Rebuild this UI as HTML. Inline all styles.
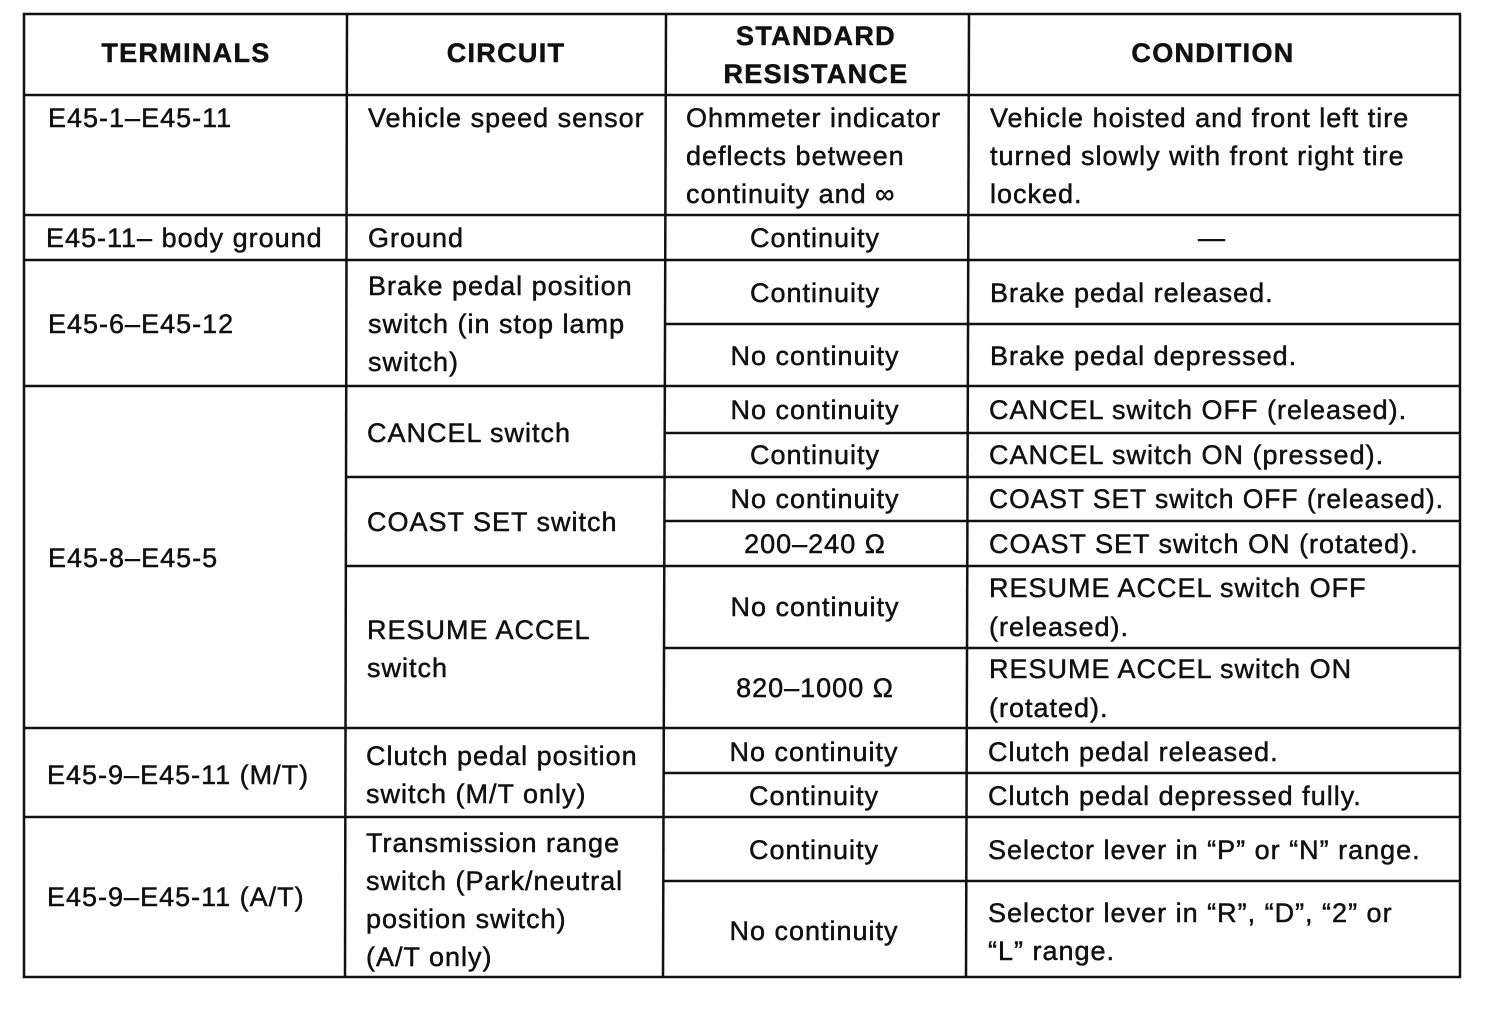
<!DOCTYPE html>
<html><head><meta charset="utf-8"><style>
html,body{margin:0;padding:0;background:#fff;}
svg{display:block;}
text{font-family:"Liberation Sans",Arial,sans-serif;font-size:27px;letter-spacing:1px;fill:#111;stroke:#111;stroke-width:0.5;}
.h{font-weight:bold;font-size:27px;letter-spacing:1.3px;}
</style></head><body>
<svg width="1504" height="1014" viewBox="0 0 1504 1014">
<g stroke="#111" stroke-width="2.5" fill="none">
<rect x="24" y="14" width="1436" height="963"/>
<line x1="347" y1="14" x2="345" y2="977"/>
<line x1="666" y1="14" x2="663" y2="977"/>
<line x1="969" y1="14" x2="966" y2="977"/>
<line x1="24" y1="95" x2="1460" y2="95"/>
<line x1="24" y1="215" x2="1460" y2="215"/>
<line x1="24" y1="260" x2="1460" y2="260"/>
<line x1="665" y1="324" x2="1460" y2="324"/>
<line x1="24" y1="386" x2="1460" y2="386"/>
<line x1="665" y1="433" x2="1460" y2="433"/>
<line x1="346" y1="477" x2="1460" y2="477"/>
<line x1="665" y1="521" x2="1460" y2="521"/>
<line x1="346" y1="566" x2="1460" y2="566"/>
<line x1="665" y1="648" x2="1460" y2="648"/>
<line x1="24" y1="728" x2="1460" y2="728"/>
<line x1="664" y1="773" x2="1460" y2="773"/>
<line x1="24" y1="817" x2="1460" y2="817"/>
<line x1="664" y1="881" x2="1460" y2="881"/>
</g>
<text class="h" x="186" y="62" text-anchor="middle">TERMINALS</text>
<text class="h" x="506" y="62" text-anchor="middle">CIRCUIT</text>
<text class="h" x="816" y="45" text-anchor="middle">STANDARD</text>
<text class="h" x="816" y="83" text-anchor="middle">RESISTANCE</text>
<text class="h" x="1213" y="62" text-anchor="middle">CONDITION</text>

<text x="48" y="127">E45-1–E45-11</text>
<text x="368" y="127">Vehicle speed sensor</text>
<text x="686" y="127">Ohmmeter indicator</text>
<text x="686" y="165">deflects between</text>
<text x="686" y="203">continuity and ∞</text>
<text x="990" y="127">Vehicle hoisted and front left tire</text>
<text x="990" y="165">turned slowly with front right tire</text>
<text x="990" y="203">locked.</text>

<text x="46" y="247">E45-11– body ground</text>
<text x="368" y="247">Ground</text>
<text x="815" y="247" text-anchor="middle">Continuity</text>
<text x="1212" y="247" text-anchor="middle">—</text>

<text x="48" y="333">E45-6–E45-12</text>
<text x="368" y="295">Brake pedal position</text>
<text x="368" y="333">switch (in stop lamp</text>
<text x="368" y="371">switch)</text>
<text x="815" y="302" text-anchor="middle">Continuity</text>
<text x="990" y="302">Brake pedal released.</text>
<text x="815" y="365" text-anchor="middle">No continuity</text>
<text x="990" y="365">Brake pedal depressed.</text>

<text x="48" y="567">E45-8–E45-5</text>
<text x="367" y="442">CANCEL switch</text>
<text x="815" y="419" text-anchor="middle">No continuity</text>
<text x="989" y="419">CANCEL switch OFF (released).</text>
<text x="815" y="464" text-anchor="middle">Continuity</text>
<text x="989" y="464">CANCEL switch ON (pressed).</text>
<text x="367" y="531">COAST SET switch</text>
<text x="815" y="508" text-anchor="middle">No continuity</text>
<text x="989" y="508" textLength="455" lengthAdjust="spacingAndGlyphs">COAST SET switch OFF (released).</text>
<text x="815" y="553" text-anchor="middle">200–240 Ω</text>
<text x="989" y="553">COAST SET switch ON (rotated).</text>
<text x="367" y="639">RESUME ACCEL</text>
<text x="367" y="677">switch</text>
<text x="815" y="616" text-anchor="middle">No continuity</text>
<text x="989" y="597">RESUME ACCEL switch OFF</text>
<text x="989" y="636">(released).</text>
<text x="815" y="697" text-anchor="middle">820–1000 Ω</text>
<text x="989" y="678">RESUME ACCEL switch ON</text>
<text x="989" y="717">(rotated).</text>

<text x="47" y="784">E45-9–E45-11 (M/T)</text>
<text x="366" y="765">Clutch pedal position</text>
<text x="366" y="803">switch (M/T only)</text>
<text x="814" y="761" text-anchor="middle">No continuity</text>
<text x="988" y="761">Clutch pedal released.</text>
<text x="814" y="805" text-anchor="middle">Continuity</text>
<text x="988" y="805">Clutch pedal depressed fully.</text>

<text x="47" y="906">E45-9–E45-11 (A/T)</text>
<text x="366" y="852">Transmission range</text>
<text x="366" y="890">switch (Park/neutral</text>
<text x="366" y="928">position switch)</text>
<text x="366" y="966">(A/T only)</text>
<text x="814" y="859" text-anchor="middle">Continuity</text>
<text x="988" y="859">Selector lever in “P” or “N” range.</text>
<text x="814" y="940" text-anchor="middle">No continuity</text>
<text x="988" y="922">Selector lever in “R”, “D”, “2” or</text>
<text x="988" y="960">“L” range.</text>
</svg>
</body></html>
